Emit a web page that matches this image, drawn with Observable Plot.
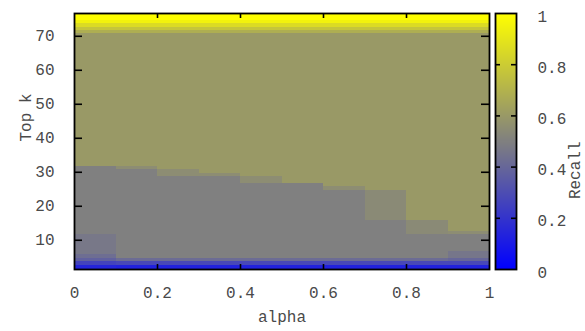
<!DOCTYPE html>
<html><head><meta charset="utf-8">
<script src="https://cdn.jsdelivr.net/npm/d3@7"></script>
<script src="https://cdn.jsdelivr.net/npm/@observablehq/plot@0.6"></script>
<style>
body{margin:0;background:#fff}
#chart{position:relative;width:585px;height:331px}
#chart svg{position:absolute;left:0;top:0}
</style></head><body><div id="chart"></div>
<script>
// x bins of alpha (column edges)
const alphaEdges = [0, 0.1, 0.2, 0.3, 0.4, 0.5, 0.6, 0.7, 0.8, 0.9, 1.0];
const xTicks = [0, 0.2, 0.4, 0.6, 0.8, 1];
const yTicks = [10, 20, 30, 40, 50, 60, 70];
const recallTicks = [0, 0.2, 0.4, 0.6, 0.8, 1];
const kRange = [1.4, 76.7];

// bands: [k from, k to, recall]
const topRows = [[70.7, 71.7, 0.68], [71.7, 72.7, 0.77], [72.7, 73.7, 0.86], [73.7, 74.7, 0.95], [74.7, 76.7, 1.0]];
const bottomRows = [[1.4, 2.7, 0.13], [2.7, 3.7, 0.28], [3.7, 4.7, 0.42]];
const bandsA00 = [[1.4, 2.7, 0.14], [2.7, 3.7, 0.26], [3.7, 4.7, 0.38], [4.7, 5.7, 0.43], [5.7, 11.7, 0.47], [11.7, 31.7, 0.5], [31.7, 70.7, 0.6]];
const bandsA01 = [[4.7, 30.7, 0.5], [30.7, 31.7, 0.55], [31.7, 70.7, 0.6]];
const bandsA02 = [[4.7, 28.7, 0.5], [28.7, 30.7, 0.55], [30.7, 70.7, 0.6]];
const bandsA03 = [[4.7, 28.7, 0.5], [28.7, 29.7, 0.55], [29.7, 70.7, 0.6]];
const bandsA04 = [[4.7, 26.7, 0.5], [26.7, 28.7, 0.55], [28.7, 70.7, 0.6]];
const bandsA05 = [[4.7, 26.7, 0.5], [26.7, 70.7, 0.6]];
const bandsA06 = [[4.7, 24.7, 0.5], [24.7, 25.7, 0.55], [25.7, 70.7, 0.6]];
const bandsA07 = [[4.7, 15.7, 0.5], [15.7, 24.7, 0.54], [24.7, 70.7, 0.6]];
const bandsA08 = [[4.7, 11.7, 0.5], [11.7, 15.7, 0.54], [15.7, 70.7, 0.6]];
const bandsA09 = [[1.4, 2.7, 0.13], [2.7, 3.7, 0.28], [3.7, 4.7, 0.4], [4.7, 6.7, 0.46], [6.7, 11.7, 0.5], [11.7, 12.7, 0.55], [12.7, 70.7, 0.6]];

const columnBands = [
  bandsA00,
  bottomRows.concat(bandsA01),
  bottomRows.concat(bandsA02),
  bottomRows.concat(bandsA03),
  bottomRows.concat(bandsA04),
  bottomRows.concat(bandsA05),
  bottomRows.concat(bandsA06),
  bottomRows.concat(bandsA07),
  bottomRows.concat(bandsA08),
  bandsA09
];

const cells = [];
columnBands.forEach((bands, i) => {
  bands.concat(topRows).forEach(([k1, k2, r]) => {
    cells.push({x1: alphaEdges[i], x2: alphaEdges[i + 1], y1: k1, y2: k2, recall: r});
  });
});

const palette = d3.piecewise(d3.interpolateRgb, ["#0000ff", "#808080", "#ffff00"]);
const colorScale = {type: "linear", domain: [0, 1], interpolate: palette};
const font = {fontFamily: "'Liberation Mono', 'Courier New', monospace", fontSize: "16px", color: "#4a4a4a", background: "transparent", overflow: "visible"};
const fmt = d => String(d);

const mainBox = {width: 585, height: 331, marginLeft: 74, marginRight: 96, marginTop: 13, marginBottom: 62};
const barBox = {width: 585, height: 331, marginLeft: 495, marginRight: 69, marginTop: 13, marginBottom: 62};

// main heatmap + labels
const main = Plot.plot({
  ...mainBox,
  x: {domain: [0, 1]},
  y: {domain: kRange},
  color: colorScale,
  style: font,
  marks: [
    Plot.rect(cells, {x1: "x1", x2: "x2", y1: "y1", y2: "y2", fill: "recall", shapeRendering: "crispEdges"}),
    Plot.axisY(yTicks, {anchor: "left", stroke: "none", tickSize: 0, tickPadding: 20, tickFormat: fmt, label: null}),
    Plot.axisX(xTicks, {anchor: "bottom", stroke: "none", tickSize: 0, tickPadding: 17, tickFormat: fmt, label: null}),
    Plot.text(["alpha"], {text: d => d, frameAnchor: "bottom", dy: 52}),
    Plot.text(["Top k"], {text: d => d, frameAnchor: "left", rotate: -90, dx: -49})
  ]
});

// main frame and inward ticks (frame is 415 x 256 px)
const mainTicks = Plot.plot({
  ...mainBox,
  x: {domain: [0, 1], axis: null},
  y: {domain: kRange, axis: null},
  style: {background: "transparent"},
  marks: [
    Plot.tickY(yTicks, {y: d => d, stroke: "black", strokeWidth: 1.6, insetRight: 407}),
    Plot.tickY(yTicks, {y: d => d, stroke: "black", strokeWidth: 1.6, insetLeft: 407}),
    Plot.tickX(xTicks.slice(1, -1), {x: d => d, stroke: "black", strokeWidth: 1.6, insetTop: 251}),
    Plot.tickX(xTicks.slice(1, -1), {x: d => d, stroke: "black", strokeWidth: 1.6, insetBottom: 251}),
    Plot.frame({stroke: "black", strokeWidth: 1.8})
  ]
});

// colorbar + labels
const bar = Plot.plot({
  ...barBox,
  x: {domain: [0, 1], axis: null},
  y: {domain: [0, 1]},
  color: colorScale,
  style: font,
  marks: [
    Plot.raster({fill: (x, y) => y, x1: 0, x2: 1, y1: 0, y2: 1}),
    Plot.axisY(recallTicks, {anchor: "right", stroke: "none", tickSize: 0, tickPadding: 21, dy: 3, tickFormat: fmt, label: null}),
    Plot.text(["Recall"], {text: d => d, frameAnchor: "right", rotate: -90, dx: 58})
  ]
});

// colorbar frame and ticks (frame is 21 px wide)
const barTicks = Plot.plot({
  ...barBox,
  x: {domain: [0, 1], axis: null},
  y: {domain: [0, 1], axis: null},
  style: {background: "transparent"},
  marks: [
    Plot.tickY(recallTicks.slice(1, -1), {y: d => d, stroke: "black", strokeWidth: 1.6, insetRight: 16}),
    Plot.tickY(recallTicks.slice(1, -1), {y: d => d, stroke: "black", strokeWidth: 1.6, insetLeft: 16}),
    Plot.frame({stroke: "black", strokeWidth: 1.8})
  ]
});

const chart = document.getElementById("chart");
chart.appendChild(main);
chart.appendChild(bar);
chart.appendChild(mainTicks);
chart.appendChild(barTicks);
</script>
</body></html>
